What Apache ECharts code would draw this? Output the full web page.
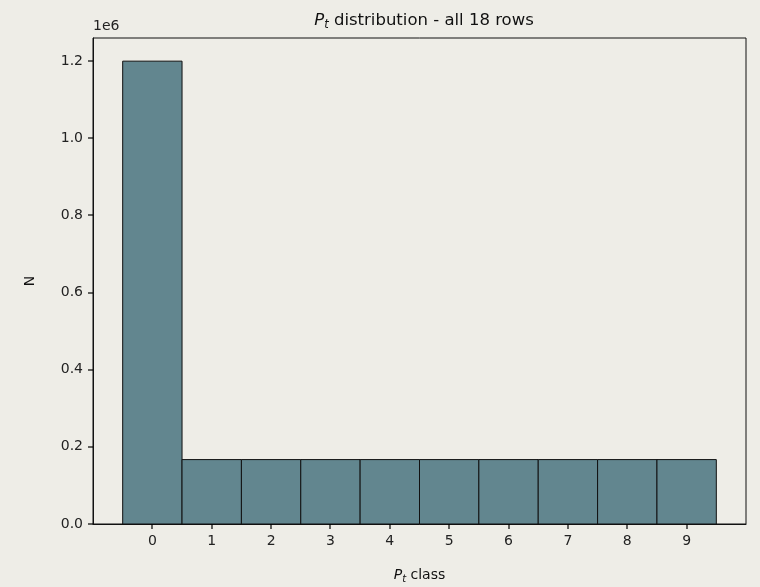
<!DOCTYPE html>
<html>
<head>
<meta charset="utf-8">
<script src="https://cdn.jsdelivr.net/npm/echarts@6/dist/echarts.min.js"></script>
<style>
  html, body { margin: 0; padding: 0; background: #eeede7; }
  #chart { width: 760px; height: 587px; }
</style>
</head>
<body>
<div id="chart"></div>
<script>
// Counts per P_t class
const classes = [0, 1, 2, 3, 4, 5, 6, 7, 8, 9];
const counts = [1200000, 167000, 167000, 167000, 167000, 167000, 167000, 167000, 167000, 167000];
const yTicks = [0, 200000, 400000, 600000, 800000, 1000000, 1200000];

const FONT = 'DejaVu Sans';
const INK = '#111';
const BG = '#eeede7';
const barData = classes.map((c, i) => [c, counts[i]]);
const X_MIN = -1, X_MAX = 10;
const yMax = Math.max(...counts) * 1.05;
const yTickMax = yTicks[yTicks.length - 1];
const TICK = 5;

const chart = echarts.init(document.getElementById('chart'));
chart.setOption({
  backgroundColor: BG,
  animation: false,
  textStyle: { fontFamily: FONT },
  title: {
    text: '{i|P}{s|t} distribution - all 18 rows',
    left: 419, top: 6, textAlign: 'center',
    textStyle: {
      fontFamily: FONT, fontSize: 16.5, fontWeight: 'normal', color: INK,
      rich: {
        i: { fontFamily: FONT, fontSize: 16.5, fontStyle: 'italic', color: INK },
        s: { fontFamily: FONT, fontSize: 11.5, fontStyle: 'italic', color: INK, verticalAlign: 'bottom', padding: [8, 0, 0, 0] }
      }
    }
  },
  grid: {
    left: 93, right: 14, top: 38, bottom: 63, outerBoundsMode: 'none',
    show: true, borderColor: INK, borderWidth: 1, backgroundColor: 'transparent'
  },
  xAxis: {
    type: 'value', min: X_MIN, max: X_MAX, interval: 1,
    name: '{i|P}{s|t} class', nameLocation: 'middle', nameGap: 43,
    nameTextStyle: {
      fontFamily: FONT, fontSize: 14, color: INK,
      rich: {
        i: { fontFamily: FONT, fontSize: 14, fontStyle: 'italic', color: INK },
        s: { fontFamily: FONT, fontSize: 10, fontStyle: 'italic', color: INK, verticalAlign: 'bottom', padding: [7, 0, 0, 0] }
      }
    },
    axisLine: { show: true, onZero: false, lineStyle: { color: INK, width: 1 } },
    axisTick: { show: false },
    axisLabel: {
      fontFamily: FONT, fontSize: 14, color: '#222', margin: 10,
      formatter: v => (v < classes[0] || v > classes[classes.length - 1]) ? '' : String(v)
    },
    splitLine: { show: false }
  },
  yAxis: {
    type: 'value', min: 0, max: yMax, interval: 200000,
    name: 'N', nameLocation: 'middle', nameGap: 56, nameRotate: 90,
    nameTextStyle: { fontFamily: FONT, fontSize: 14, color: INK },
    axisLine: { show: true, onZero: false, lineStyle: { color: INK, width: 1 } },
    axisTick: { show: false },
    axisLabel: {
      fontFamily: FONT, fontSize: 14, color: '#222', margin: 10,
      formatter: v => v > yTickMax ? '' : (v / 1e6).toFixed(1)
    },
    splitLine: { show: false }
  },
  series: [{
    type: 'custom',
    data: barData,
    renderItem: function (params, api) {
      const x = api.value(0), y = api.value(1);
      const p0 = api.coord([x - 0.5, y]);
      const p1 = api.coord([x + 0.5, 0]);
      return {
        type: 'rect',
        shape: { x: p0[0], y: p0[1], width: p1[0] - p0[0], height: p1[1] - p0[1] },
        style: { fill: '#62868f', stroke: INK, lineWidth: 1 }
      };
    }
  }]
});

// Outward tick marks at the labelled positions, placed through the axis scales
const marks = [];
classes.forEach(c => {
  const p = chart.convertToPixel({ gridIndex: 0 }, [c, 0]);
  const x = Math.round(p[0]), y = Math.round(p[1]);
  marks.push({ type: 'rect', silent: true, z: 100,
    shape: { x: x - 0.6, y: y, width: 1.2, height: TICK }, style: { fill: '#000' } });
});
yTicks.forEach(v => {
  const p = chart.convertToPixel({ gridIndex: 0 }, [X_MIN, v]);
  const x = Math.round(p[0]), y = Math.round(p[1]);
  marks.push({ type: 'rect', silent: true, z: 100,
    shape: { x: x - TICK, y: y - 0.6, width: TICK, height: 1.2 }, style: { fill: '#000' } });
});
const pTopLeft = chart.convertToPixel({ gridIndex: 0 }, [X_MIN, yMax]);
marks.push({
  type: 'text', silent: true, x: pTopLeft[0], y: pTopLeft[1] - 5,
  style: { text: '1e6', fontFamily: FONT, fontSize: 14, fill: '#222', verticalAlign: 'bottom' }
});
chart.setOption({ graphic: marks });
</script>
</body>
</html>
